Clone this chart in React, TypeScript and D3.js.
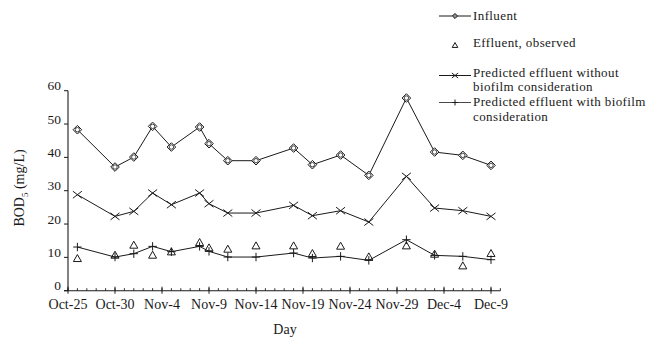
import React from "react";
import * as d3 from "d3";

// Sampling days (month-day)
const days = [
  "Oct-26", "Oct-30", "Nov-1", "Nov-3", "Nov-5", "Nov-8", "Nov-9", "Nov-11", "Nov-14",
  "Nov-18", "Nov-20", "Nov-23", "Nov-26", "Nov-30", "Dec-3", "Dec-6", "Dec-9",
];

// BOD5 values (mg/L)
const influent = [48.3, 37.1, 40.1, 49.3, 43.1, 49.1, 44.1, 39.0, 39.0, 42.8, 37.8, 40.7, 34.6, 57.8, 41.6, 40.6, 37.6];
const effluentObserved = [9.8, 10.8, 13.8, 10.8, 11.8, 14.6, 13.0, 12.6, 13.6, 13.6, 11.3, 13.5, 10.3, 13.6, 11.1, 7.6, 11.3];
const predictedWithout = [28.8, 22.3, 23.8, 29.3, 25.8, 29.3, 26.1, 23.3, 23.3, 25.6, 22.5, 24.0, 20.6, 34.3, 24.8, 24.0, 22.3];
const predictedWith = [13.1, 10.1, 11.1, 13.3, 11.7, 13.3, 11.8, 10.1, 10.1, 11.3, 9.8, 10.3, 9.1, 15.3, 10.6, 10.3, 9.3];

const xTickLabels = ["Oct-25", "Oct-30", "Nov-4", "Nov-9", "Nov-14", "Nov-19", "Nov-24", "Nov-29", "Dec-4", "Dec-9"];
const yTicks = [0, 10, 20, 30, 40, 50, 60];

const MONTHS: Record<string, number> = { Oct: 9, Nov: 10, Dec: 11 };
const parseDay = (s: string) => {
  const [m, d] = s.split("-");
  return new Date(Date.UTC(2001, MONTHS[m], +d));
};

const FONT = "'Liberation Serif', 'DejaVu Serif', serif";
const INK = "#1a1a1a";

const x = d3.scaleUtc().domain([parseDay("Oct-25"), parseDay("Dec-10")]).range([68, 500.4]);
const y = d3.scaleLinear().domain([0, 60]).range([290.7, 90.7]);

type Marker = "diamond" | "triangle" | "cross" | "plus";

function MarkerShape({ kind, cx, cy, s = 1 }: { kind: Marker; cx: number; cy: number; s?: number }) {
  const common = { fill: "none", stroke: INK, strokeWidth: 1 };
  if (kind === "diamond") {
    const r = 4.3 * s;
    return (
      <g>
        <path d={`M${cx},${cy - r}L${cx + r},${cy}L${cx},${cy + r}L${cx - r},${cy}Z`} {...common} fill="#fff" />
        <circle cx={cx} cy={cy} r={2.2 * s} {...common} strokeWidth={0.8} />
      </g>
    );
  }
  if (kind === "triangle") {
    const w = 4 * s;
    const h = 7 * s;
    return <path d={`M${cx},${cy - h / 2}L${cx + w},${cy + h / 2}L${cx - w},${cy + h / 2}Z`} {...common} />;
  }
  if (kind === "cross") {
    const r = 4.5 * s;
    const ry = 3.5 * s;
    return <path d={`M${cx - r},${cy - ry}L${cx + r},${cy + ry}M${cx - r},${cy + ry}L${cx + r},${cy - ry}`} {...common} />;
  }
  const r = 4.2 * s;
  return <path d={`M${cx - r},${cy}L${cx + r},${cy}M${cx},${cy - r}L${cx},${cy + r}`} {...common} />;
}

function Series({ values, kind, line }: { values: number[]; kind: Marker; line: boolean }) {
  const pts: [number, number][] = values.map((v, i) => [x(parseDay(days[i])), y(v)]);
  const path = d3.line()(pts) || "";
  return (
    <g>
      {line && <path d={path} fill="none" stroke={INK} strokeWidth={1} />}
      {pts.map(([px, py], i) => (
        <MarkerShape key={i} kind={kind} cx={px} cy={py} />
      ))}
    </g>
  );
}

export default function App() {
  const minorDays = d3.utcDay.range(parseDay("Oct-25"), d3.utcDay.offset(parseDay("Dec-10"), 1));
  const y0 = y(0);
  const legendX0 = 439;
  const legendX1 = 471;
  const legendMid = (legendX0 + legendX1) / 2;
  const legendText = 473;

  return (
    <svg width={649} height={340} style={{ position: "absolute", left: 0, top: 0, background: "#fff" }} fontFamily={FONT}>
      <rect width={649} height={340} fill="#fff" />

      {/* y axis */}
      <line x1={x.range()[0]} x2={x.range()[0]} y1={y(0)} y2={y(60)} stroke={INK} strokeWidth={1.1} />
      {yTicks.map((t) => (
        <g key={t}>
          <line x1={x.range()[0] - 4} x2={x.range()[0]} y1={y(t)} y2={y(t)} stroke={INK} strokeWidth={1} />
          <text x={61} y={y(t) - 3.5} textAnchor="end" dominantBaseline="middle" fontSize={13.5} fill={INK}>
            {t}
          </text>
        </g>
      ))}

      {/* x axis */}
      <line x1={x.range()[0] - 4} x2={x.range()[1]} y1={y0} y2={y0} stroke={INK} strokeWidth={1.1} />
      {minorDays.map((d, i) => (
        <line key={i} x1={x(d)} x2={x(d)} y1={y0 - 2.5} y2={y0} stroke={INK} strokeWidth={0.9} />
      ))}
      {xTickLabels.map((lab) => {
        const px = x(parseDay(lab));
        return (
          <g key={lab}>
            <line x1={px} x2={px} y1={y0 - 4} y2={y0 + 3} stroke={INK} strokeWidth={1} />
            <text x={px} y={309} textAnchor="middle" fontSize={14} fill={INK}>
              {lab}
            </text>
          </g>
        );
      })}

      {/* axis titles */}
      <text x={285} y={334} textAnchor="middle" fontSize={14} fill={INK}>
        Day
      </text>
      <text transform="translate(24,188) rotate(-90)" textAnchor="middle" fontSize={14} fill={INK}>
        BOD
        <tspan fontSize={9} dy={4}>5</tspan>
        <tspan dy={-4}>{"  (mg/L)"}</tspan>
      </text>

      {/* data */}
      <Series values={predictedWith} kind="plus" line={true} />
      <Series values={predictedWithout} kind="cross" line={true} />
      <Series values={influent} kind="diamond" line={true} />
      <Series values={effluentObserved} kind="triangle" line={false} />

      {/* legend */}
      <g fontSize={13} letterSpacing={0.4} fill={INK}>
        <line x1={legendX0} x2={legendX1} y1={16} y2={16} stroke={INK} strokeWidth={1} />
        <MarkerShape kind="diamond" cx={legendMid} cy={16} s={0.6} />
        <text x={legendText} y={19.5}>Influent</text>

        <MarkerShape kind="triangle" cx={legendMid} cy={45} s={0.7} />
        <text x={legendText} y={46.5}>Effluent, observed</text>

        <line x1={legendX0} x2={legendX1} y1={75.5} y2={75.5} stroke={INK} strokeWidth={1} />
        <MarkerShape kind="cross" cx={legendMid} cy={75.5} s={0.7} />
        <text x={legendText} y={77}>Predicted effluent without</text>
        <text x={legendText} y={91}>biofilm consideration</text>

        <line x1={legendX0} x2={legendX1} y1={102.5} y2={102.5} stroke={INK} strokeWidth={0.8} />
        <MarkerShape kind="plus" cx={legendMid} cy={102.5} s={0.7} />
        <text x={legendText} y={105.5}>Predicted effluent with biofilm</text>
        <text x={legendText} y={120.5}>consideration</text>
      </g>
    </svg>
  );
}
